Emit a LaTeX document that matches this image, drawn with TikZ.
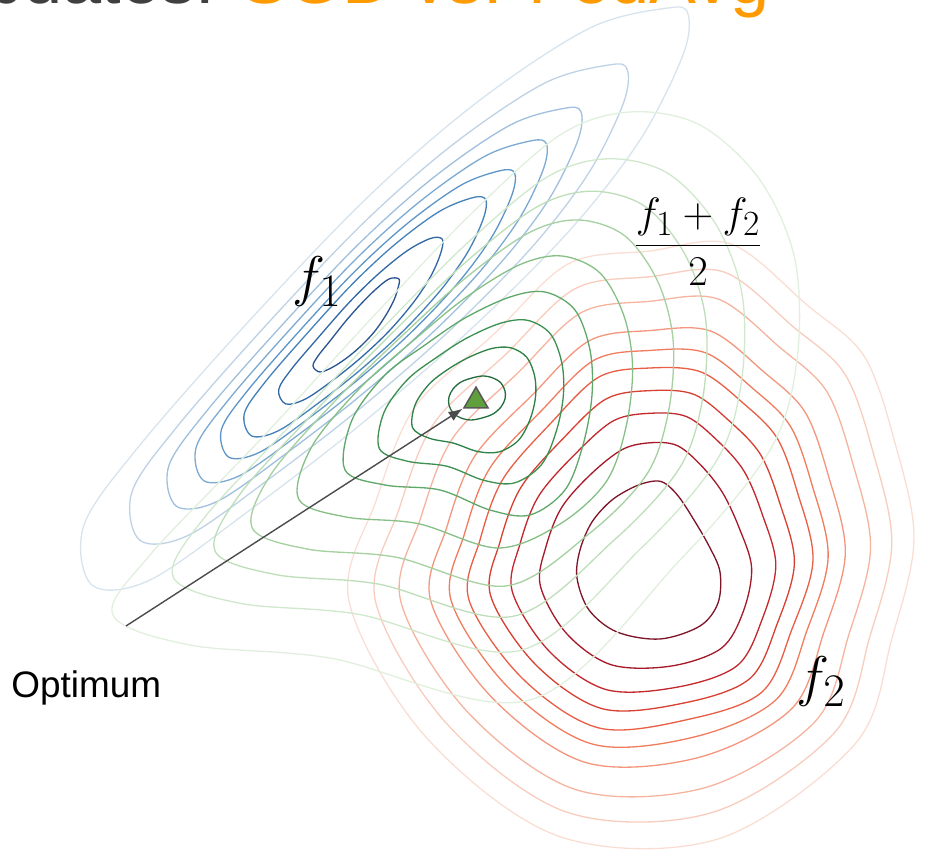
\documentclass[tikz,border=0pt]{standalone}
\usepackage{fontspec}
\newfontfamily\sansfont{Liberation Sans}
\usetikzlibrary{calc,arrows.meta,shapes.geometric}

\definecolor{blueA}{RGB}{40,85,145}
\definecolor{blueB}{RGB}{50,105,165}
\definecolor{blueC}{RGB}{70,130,185}
\definecolor{blueD}{RGB}{95,150,200}
\definecolor{blueE}{RGB}{125,170,210}
\definecolor{blueF}{RGB}{160,192,222}
\definecolor{blueG}{RGB}{190,210,230}
\definecolor{blueH}{RGB}{215,228,238}
\definecolor{greenA}{RGB}{35,110,60}
\definecolor{greenB}{RGB}{45,130,70}
\definecolor{greenC}{RGB}{60,145,80}
\definecolor{greenD}{RGB}{95,168,105}
\definecolor{greenE}{RGB}{135,192,135}
\definecolor{greenF}{RGB}{165,208,160}
\definecolor{greenG}{RGB}{190,222,185}
\definecolor{greenH}{RGB}{208,232,203}
\definecolor{greenI}{RGB}{225,240,222}
\definecolor{redA}{RGB}{125,20,40}
\definecolor{redB}{RGB}{165,25,40}
\definecolor{redC}{RGB}{195,40,45}
\definecolor{redD}{RGB}{215,65,50}
\definecolor{redE}{RGB}{232,95,70}
\definecolor{redF}{RGB}{240,125,95}
\definecolor{redG}{RGB}{243,150,125}
\definecolor{redH}{RGB}{245,180,160}
\definecolor{redI}{RGB}{248,205,190}
\definecolor{redJ}{RGB}{250,222,212}
\definecolor{optgreen}{RGB}{95,160,60}
\definecolor{titlegray}{RGB}{64,64,64}
\definecolor{titleorange}{RGB}{255,155,0}

\begin{document}
\begin{tikzpicture}[
    x=0.02cm, y=-0.02cm,
    contour/.style={line width=0.75pt, line join=round},
    ring/.style={smooth cycle, tension=0.55},
    pointer/.style={-{Latex[length=8pt,width=6pt]}, line width=0.8pt, draw=black!70},
    label/.style={inner sep=0pt}
    ]
    \useasboundingbox (0,0) rectangle (951,857);

    % title, mostly cut off
    \node[label, anchor=base east, font=\sansfont\fontsize{40pt}{40pt}\selectfont] (title) at (770,4)
        {\textcolor{titlegray}{Updates:} \textcolor{titleorange}{SGD vs. FedAvg}};

    % f1: innermost and outermost level set
    \foreach \ax/\ay/\bx/\by [count=\k] in {
        399/279/688/14, 389/279/668/8, 375/290/590/28, 360/305/480/100,
        345/322/370/195, 330/341/250/320, 318/356/140/445, 313/366/84/525,
        320/372/92/585, 333/367/150/580, 348/357/250/510, 362/345/360/425,
        375/331/470/330, 386/315/570/230, 394/300/640/140, 398/288/683/55}{
        \coordinate (bi\k) at (\ax,\ay);
        \coordinate (bo\k) at (\bx,\by);
    }
    \foreach \t/\c in {0/blueA, .15/blueB, .30/blueC, .40/blueD, .51/blueE,
                       .63/blueF, .79/blueG, 1/blueH}{
        \foreach \k in {1,...,16}{\coordinate (p\k) at ($(bi\k)!\t!(bo\k)$);}
        \draw[contour, \c] plot[ring] coordinates {(p1) (p2) (p3) (p4) (p5) (p6) (p7) (p8)
            (p9) (p10) (p11) (p12) (p13) (p14) (p15) (p16)};
    }

    % f2: inner, middle and outer level set (outer ones wobble)
    \foreach \ax/\ay/\mx/\my/\bx/\by [count=\k] in {
        577/578/469/600/349/601, 580/550/480/540/376/501, 592/522/503/479/415/407,
        612/500/551/423/493/335, 636/486/599/377/568/264, 655/481/650/368/650/251,
        666/484/701/372/731/244, 679/497/743/403/807/305, 694/520/777/438/864/356,
        709/546/797/491/895/443, 720/572/813/560/914/539, 718/603/792/629/892/638,
        700/626/762/692/855/744, 660/639/690/719/718/839, 617/632/599/728/558/836,
        589/610/522/678/425/736}{
        \coordinate (ri\k) at (\ax,\ay);
        \coordinate (rm\k) at (\mx,\my);
        \coordinate (ro\k) at (\bx,\by);
    }
    \foreach \t/\c in {0/redA, .34/redB, .6/redC, .8/redD}{
        \foreach \k in {1,...,16}{\coordinate (p\k) at ($(ri\k)!\t!(rm\k)$);}
        \draw[contour, \c] plot[ring] coordinates {(p1) (p2) (p3) (p4) (p5) (p6) (p7) (p8)
            (p9) (p10) (p11) (p12) (p13) (p14) (p15) (p16)};
    }
    \foreach \t/\c in {0/redE, .15/redF, .32/redG, .57/redH, .78/redI, 1/redJ}{
        \foreach \k in {1,...,16}{\coordinate (p\k) at ($(rm\k)!\t!(ro\k)$);}
        \draw[contour, \c] plot[ring] coordinates {(p1) (p2) (p3) (p4) (p5) (p6) (p7) (p8)
            (p9) (p10) (p11) (p12) (p13) (p14) (p15) (p16)};
    }

    % (f1+f2)/2
    \foreach \ax/\ay/\mx/\my/\bx/\by [count=\k] in {
        449/405/345/470/113/615, 449/397/352/420/150/555, 453/389/385/375/260/440,
        461/382/425/345/370/320, 472/378/465/318/470/215, 483/376/510/297/560/135,
        493/378/545/292/630/112, 501/383/575/310/700/125, 505/391/590/350/760/180,
        505/399/592/395/795/260, 501/407/583/445/797/360, 493/414/565/490/770/450,
        482/418/530/515/680/560, 471/420/490/510/530/700, 461/418/440/490/330/658,
        453/413/385/485/190/645}{
        \coordinate (gi\k) at (\ax,\ay);
        \coordinate (gm\k) at (\mx,\my);
        \coordinate (go\k) at (\bx,\by);
    }
    \foreach \t/\c in {0/greenA, .35/greenB, .67/greenC}{
        \foreach \k in {1,...,16}{\coordinate (p\k) at ($(gi\k)!\t!(gm\k)$);}
        \draw[contour, \c] plot[ring] coordinates {(p1) (p2) (p3) (p4) (p5) (p6) (p7) (p8)
            (p9) (p10) (p11) (p12) (p13) (p14) (p15) (p16)};
    }
    \foreach \t/\c in {0/greenD, .2/greenE, .4/greenF, .56/greenG, .74/greenH, 1/greenI}{
        \foreach \k in {1,...,16}{\coordinate (p\k) at ($(gm\k)!\t!(go\k)$);}
        \draw[contour, \c] plot[ring] coordinates {(p1) (p2) (p3) (p4) (p5) (p6) (p7) (p8)
            (p9) (p10) (p11) (p12) (p13) (p14) (p15) (p16)};
    }

    % optimum of the average
    \node[regular polygon, regular polygon sides=3, minimum size=0.554cm, inner sep=0pt,
          fill=optgreen, draw=black!65, line width=0.9pt] (opt) at (476,401) {};
    \coordinate (tail) at (126,626);
    \draw[pointer] (tail) -- (opt.corner 2);

    \node[label, anchor=base west, font=\Huge, scale=1.28] (fone) at (292,296) {$f_1$};
    \node[label, anchor=base west, font=\Huge, scale=1.28] (ftwo) at (796,696) {$f_2$};
    \node[label, anchor=base, font=\Huge, scale=0.97] (favg) at (698,256)
        {$\displaystyle\frac{f_1+f_2}{2}$};
    \node[label, anchor=base west, font=\sansfont\fontsize{21pt}{21pt}\selectfont] (optlabel) at (11,698) {Optimum};
\end{tikzpicture}
\end{document}
